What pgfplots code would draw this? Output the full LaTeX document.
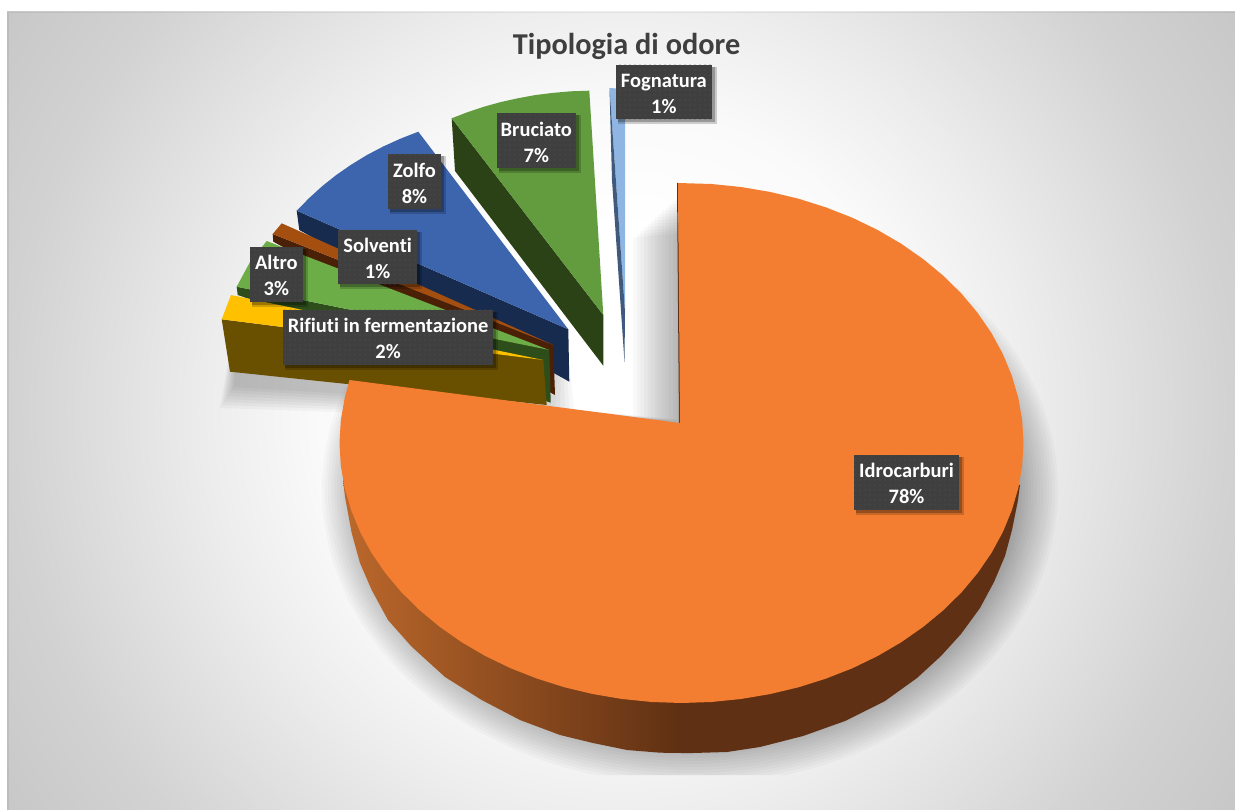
\documentclass[border=0pt]{standalone}
\usepackage{fontspec}
\setmainfont{Carlito}[Ligatures=NoCommon]
\usepackage{pgfplots}
\pgfplotsset{compat=1.18}
\usetikzlibrary{calc,patterns.meta}

\definecolor{orangetop}{HTML}{F37E31}
\definecolor{orangedark}{HTML}{5F3013}
\definecolor{orangelight}{HTML}{BC682B}
\definecolor{greentop}{HTML}{629C3E}
\definecolor{greenwall}{HTML}{2B4116}
\definecolor{bluetop}{HTML}{3D65AE}
\definecolor{bluewall}{HTML}{172B4E}
\definecolor{sky}{HTML}{8FB5E3}
\definecolor{skywall}{HTML}{3F5A7C}
\definecolor{browntop}{HTML}{A44E10}
\definecolor{brownwall}{HTML}{4A2007}
\definecolor{lime}{HTML}{6DAD47}
\definecolor{limewall}{HTML}{2D4E1A}
\definecolor{yellowtop}{HTML}{FFC000}
\definecolor{yellowwall}{HTML}{695000}
\definecolor{boxcol}{HTML}{3F3F3F}
\definecolor{dotcol}{HTML}{525252}
\definecolor{bg1}{HTML}{FAFAFA}
\definecolor{bg2}{HTML}{EDEDED}
\definecolor{bg3}{HTML}{D2D2D2}
\definecolor{bg4}{HTML}{C6C6C6}

% only the middle 50bp of a shading is fitted to the path
\pgfdeclareradialshading{chartbg}{\pgfpoint{0bp}{0bp}}{%
  color(0bp)=(white); color(6bp)=(white); color(10bp)=(bg1); color(13.7bp)=(bg2);
  color(20.3bp)=(bg3); color(25bp)=(bg4); color(50bp)=(bg4)}

% data label: box corners, then the two lines of text
\newcommand{\lab}[6]{%
  \fill[black,opacity=.18] (axis cs:{#1+2},{#2+2}) rectangle (axis cs:{#3+5},{#4+5});
  \fill[black,opacity=.25] (axis cs:{#1+2},{#2+2}) rectangle (axis cs:{#3+3},{#4+3});
  \fill[boxcol] (axis cs:#1,#2) rectangle (axis cs:#3,#4);
  \fill[pattern={Dots[distance=5pt,radius=.7pt]},pattern color=dotcol] (axis cs:#1,#2) rectangle (axis cs:#3,#4);
  \node[text=white,font=\bfseries\fontsize{20.5}{26}\selectfont,align=center,inner sep=0pt]
    at ($(axis cs:#1,#2)!.5!(axis cs:#3,#4)+(0,-1.5pt)$) {#5\\#6};
}

\begin{document}
\begin{tikzpicture}
\begin{axis}[
  scale only axis, width=1235pt, height=810pt,
  xmin=0, xmax=1235, ymin=0, ymax=810, y dir=reverse,
  hide axis, clip=false,
]
\fill[white] (axis cs:0,0) rectangle (axis cs:1235,810);
\begin{scope}
  \clip (axis cs:7,12) rectangle (axis cs:1235,810);
  \shade[shading=chartbg] (axis cs:-130,-340) rectangle (axis cs:1370,1160);
\end{scope}
\fill[black,opacity=.06] (axis cs:7,12) rectangle (axis cs:8.5,810);
\fill[black,opacity=.06] (axis cs:8.5,12) rectangle (axis cs:1235,13.5);

% soft shadow of the big slice
\pgfplotsinvokeforeach{0,...,13}{
  \begin{scope}
    \clip (axis cs:{680-3.6*#1},100) -- (axis cs:1235,100) -- (axis cs:1235,775) -- (axis cs:200,775)
      -- (axis cs:200,372) -- (axis cs:{680-3.6*#1},420) -- cycle;
    \fill[black,opacity=.024] (axis cs:690,490) ellipse [x radius={(368-3*#1)*1pt}, y radius={(295-3*#1)*1pt}];
  \end{scope}
}
% soft shadow under the small slices
\pgfplotsinvokeforeach{0,...,7}{
  \fill[black,opacity=.03] (axis cs:{228+#1},360) -- (axis cs:{220+2*#1},{408-3*#1}) -- (axis cs:{575-5*#1},{420-2*#1}) -- (axis cs:{570-3*#1},370) -- cycle;
}

% Fognatura
\addplot[draw=none,fill=sky] coordinates {(609.5,88) (625,89) (625,312)} -- cycle;
\addplot[draw=none,fill=skywall] coordinates {(609.5,88) (612,180) (624.5,362) (625,312)} -- cycle;
% Bruciato
\addplot[draw=none,fill=greenwall] coordinates {(451.7,118.3) (455,171) (603.3,365.7) (603.3,315)} -- cycle;
\addplot[draw=none,fill=greentop] coordinates {(451.7,118.3) (467.7,112.1) (484,106.7) (500.7,102.1) (517.7,98.3) (535.1,95.1) (552.8,92.9) (570.9,91.3) (589.3,90.7) (603.3,315)} -- cycle;
% Zolfo
\addplot[draw=none,fill=bluewall] coordinates {(296.7,210.7) (299.3,230) (569.3,381.7) (568.3,329.3)} -- cycle;
\addplot[draw=none,fill=bluetop] coordinates {(296.7,210.7) (309.2,198) (322.4,186) (336.4,174.9) (351.3,164.6) (366.8,155.1) (383.2,146.5) (400.4,138.7) (418.3,131.7) (568.3,329.3)} -- cycle;
% Solventi
\addplot[draw=none,fill=brownwall] coordinates {(272.7,234) (273.3,241.7) (555,395) (553.3,345)} -- cycle;
\addplot[draw=none,fill=browntop] coordinates {(281.7,223.3) (272.7,234) (553.3,345)} -- cycle;
% Altro
\addplot[draw=none,fill=limewall] coordinates {(236.7,286.7) (237.7,295) (550.7,402.7) (549.3,350)} -- cycle;
\addplot[draw=none,fill=lime] coordinates {(266.7,241) (250,262) (236.7,286.7) (549.3,350)} -- cycle;
% Rifiuti in fermentazione
\addplot[draw=none,fill=yellowwall] coordinates {(221.7,319.3) (230,371.7) (546.7,405) (543.3,360)} -- cycle;
\addplot[draw=none,fill=yellowtop] coordinates {(231,295) (221.7,319.3) (543.3,360)} -- cycle;

% Idrocarburi: side wall, then top
\addplot[draw=none,left color=orangelight,right color=orangedark] coordinates {
  (343,480) (345,497) (351.7,533) (360,563) (371.7,590) (388,620) (411.7,646.7) (445,677)
  (481.7,700) (520,720) (560,735) (593,743) (627,750) (660,752.7) (681.5,753) (681.5,600)} -- cycle;
\addplot[draw=none,fill=orangedark] coordinates {
  (681,753) (693,753) (727,752) (760,747) (803,736) (845,721) (885,701) (917,678) (941,656)
  (961,634) (980,608) (994,582) (1005,556) (1012,530) (1018,500) (1020,485) (900,450) (681,600)} -- cycle;
\addplot[draw=none,fill=orangedark] coordinates {(677,183) (678,183) (681,424) (679,424)} -- cycle;
\addplot[draw=none,fill=orangetop] coordinates {
  (678,183) (711.3,184) (740.9,187) (770,191.9) (798.5,198.7) (826,207.4) (852.5,217.8) (877.7,230)
  (901.3,243.8) (923.3,259.2) (943.5,275.9) (961.7,293.9) (977.7,313) (991.5,333.1) (1002.9,354.1)
  (1011.8,375.7) (1018.3,397.9) (1022.2,420.3) (1023.5,443)
  (1022.2,465.7) (1018.3,488.1) (1011.8,510.3) (1002.9,531.9) (991.5,552.9) (977.7,573) (961.7,592.1)
  (943.5,610.1) (923.3,626.8) (901.3,642.2) (877.7,656) (852.5,668.2) (826,678.6) (798.5,687.3)
  (770,694.1) (740.9,699) (711.3,702) (681.5,703)
  (651.7,702) (622.1,699) (593,694.1) (564.5,687.3) (537,678.6) (510.5,668.2) (485.3,656) (461.7,642.2)
  (439.7,626.8) (419.5,610.1) (401.3,592.1) (385.3,573) (371.5,552.9) (360.1,531.9) (351.2,510.3)
  (344.7,488.1) (340.8,465.7) (339.5,443) (340.8,420.3) (344.7,397.9) (349.5,380) (680,423)} -- cycle;

\node[text=boxcol,font=\bfseries\fontsize{30.3}{36}\selectfont,inner sep=0pt] at (axis cs:626.5,46) {Tipologia di odore};

\lab{616}{65}{711.7}{119.3}{Fognatura}{1\%}
\lab{496.7}{113.3}{576}{168.3}{Bruciato}{7\%}
\lab{388.3}{154}{440.7}{209.3}{Zolfo}{8\%}
\lab{338.3}{230}{417}{284.3}{Solventi}{1\%}
\lab{250}{247}{302.7}{301.7}{Altro}{3\%}
\lab{283.3}{310}{493}{364.7}{Rifiuti in fermentazione}{2\%}
\lab{854}{455}{959}{509.7}{Idrocarburi}{78\%}
\end{axis}
\end{tikzpicture}
\end{document}
